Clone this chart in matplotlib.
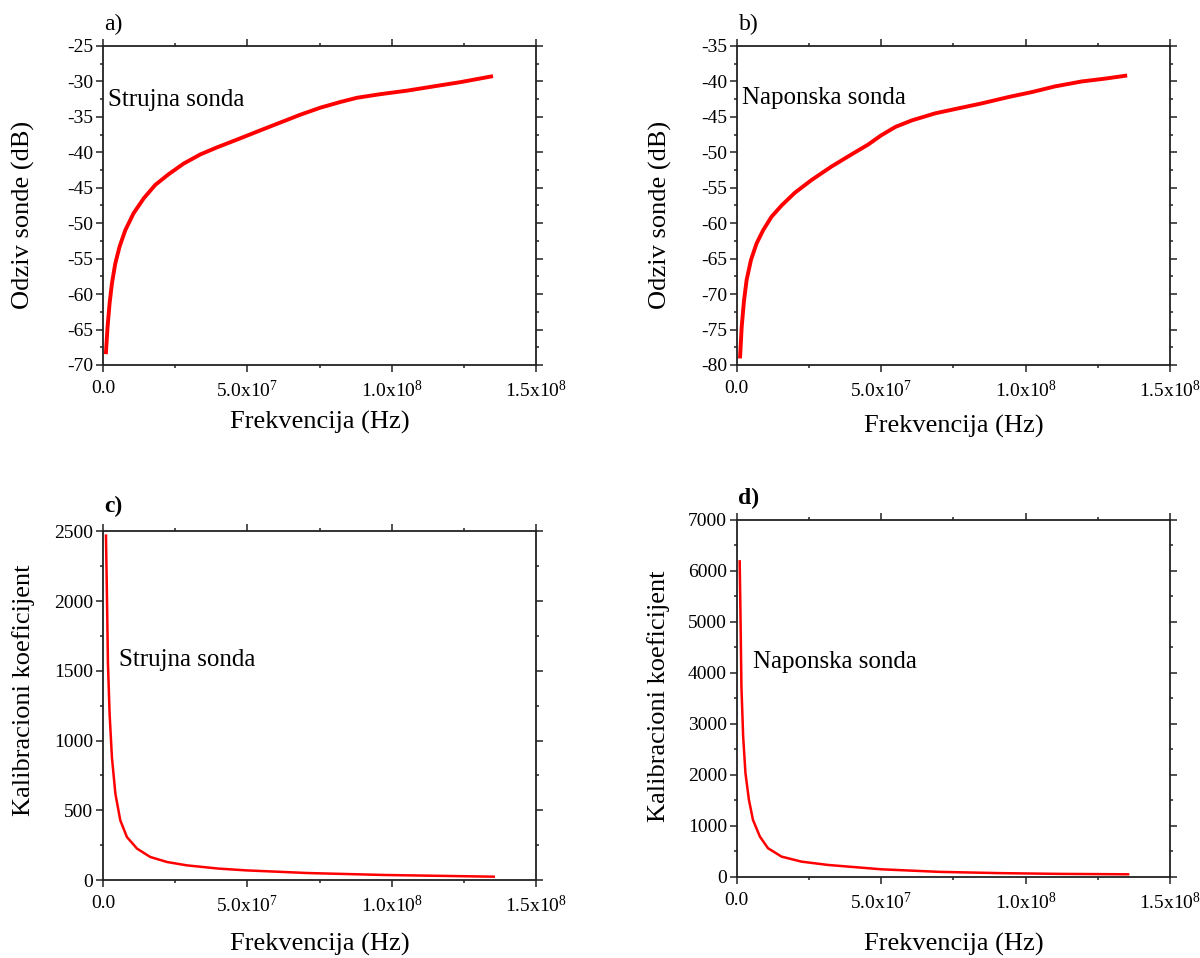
import matplotlib
matplotlib.use("Agg")
import matplotlib.pyplot as plt
from matplotlib.ticker import MultipleLocator, FixedLocator, FixedFormatter

plt.rcParams['font.family'] = ['Liberation Serif', 'DejaVu Serif']
plt.rcParams['mathtext.fontset'] = 'custom'
plt.rcParams['mathtext.rm'] = 'Liberation Serif'
plt.rcParams['mathtext.it'] = 'Liberation Serif:italic'
plt.rcParams['mathtext.bf'] = 'Liberation Serif:bold'
plt.rcParams['axes.unicode_minus'] = False

# ---- data ----
freq_a = [1.04e6, 1.6e6, 2.3e6, 3.1e6, 4.26e6, 5.75e6, 7.72e6, 10.6e6, 14.1e6, 18.1e6,
          22.7e6, 27.9e6, 33.7e6, 39.5e6, 45.2e6, 50.8e6, 54.5e6, 61.4e6, 68.3e6, 75.3e6,
          82.2e6, 88.0e6, 96.0e6, 105.3e6, 114.5e6, 123.8e6, 134.4e6]
resp_a = [-68.2, -64.6, -61.3, -58.5, -55.7, -53.3, -51.0, -48.6, -46.5, -44.6,
          -43.1, -41.6, -40.3, -39.3, -38.4, -37.5, -36.9, -35.8, -34.7, -33.7,
          -32.9, -32.3, -31.8, -31.3, -30.7, -30.1, -29.3]

freq_b = [1.14e6, 1.7e6, 2.5e6, 3.4e6, 4.9e6, 6.8e6, 9.1e6, 12.0e6, 15.5e6, 20.1e6,
          25.9e6, 32.8e6, 39.7e6, 45.5e6, 50.0e6, 55.0e6, 60.6e6, 68.7e6, 76.7e6, 84.8e6,
          94.1e6, 102.2e6, 110.2e6, 119.5e6, 127.6e6, 134.5e6]
resp_b = [-78.8, -74.6, -70.9, -68.0, -65.2, -62.9, -61.0, -59.1, -57.5, -55.7,
          -53.9, -52.0, -50.3, -48.9, -47.6, -46.4, -45.5, -44.5, -43.8, -43.1,
          -42.2, -41.5, -40.7, -40.0, -39.6, -39.2]

freq_c = [1.04e6, 1.39e6, 1.73e6, 2.3e6, 3.1e6, 4.3e6, 6.0e6, 8.3e6, 11.8e6, 16.4e6,
          22.2e6, 29.1e6, 40.0e6, 49.7e6, 71.0e6, 97.6e6, 135.3e6]
coef_c = [2469, 2027, 1550, 1192, 881, 619, 428, 308, 225, 165,
          129, 105, 82, 69, 50, 36, 24]

freq_d = [1.0e6, 1.3e6, 1.6e6, 2.2e6, 3.0e6, 4.2e6, 5.6e6, 8.0e6, 10.8e6, 15.5e6,
          22.4e6, 31.6e6, 40.3e6, 50.0e6, 70.0e6, 91.0e6, 112.0e6, 135.5e6]
coef_d = [6182, 5039, 3731, 2751, 2033, 1510, 1118, 790, 563, 398,
          300, 235, 195, 150, 100, 75, 60, 52]

x_ticks = [0, 5e7, 1e8, 1.5e8]
x_ticklabels = ['0.0', '5.0x10$^{7}$', '1.0x10$^{8}$', '1.5x10$^{8}$']

fig = plt.figure(figsize=(12, 9.58), dpi=100)

W = 0.361
axa = fig.add_axes([0.0858, 0.619, W, 0.333])
axb = fig.add_axes([0.614, 0.619, W, 0.333])
axc = fig.add_axes([0.0858, 0.0814, W, 0.364])
axd = fig.add_axes([0.614, 0.0846, W, 0.373])

RED = '#ff0000'
axa.plot(freq_a, resp_a, color=RED, lw=2.8, solid_joinstyle='round')
axb.plot(freq_b, resp_b, color=RED, lw=2.8, solid_joinstyle='round')
axc.plot(freq_c, coef_c, color=RED, lw=1.8, solid_joinstyle='round')
axd.plot(freq_d, coef_d, color=RED, lw=1.8, solid_joinstyle='round')

ylims = {axa: (-70, -25, 5, 2.5), axb: (-80, -35, 5, 2.5),
         axc: (0, 2500, 500, 250), axd: (0, 7000, 1000, 500)}

for ax, (lo, hi, maj, mnr) in ylims.items():
    ax.set_xlim(0, 1.5e8)
    ax.set_ylim(lo, hi)
    ax.xaxis.set_major_locator(FixedLocator(x_ticks))
    ax.xaxis.set_major_formatter(FixedFormatter(x_ticklabels))
    ax.xaxis.set_minor_locator(MultipleLocator(2.5e7))
    ax.yaxis.set_major_locator(MultipleLocator(maj))
    ax.yaxis.set_minor_locator(MultipleLocator(mnr))
    ax.tick_params(which='both', direction='out', top=True, right=True,
                   labelsize=14, color='#222222', width=1.1)
    ax.tick_params(which='major', length=5)
    ax.tick_params(which='minor', length=2.5)
    ax.tick_params(axis='x', which='major', pad=6)
    ax.tick_params(axis='y', which='major', pad=2)
    for s in ax.spines.values():
        s.set_linewidth(1.3)
        s.set_color('#222222')
    ax.set_xlabel('Frekvencija (Hz)', fontsize=19)

axa.set_ylabel('Odziv sonde (dB)', fontsize=19)
axb.set_ylabel('Odziv sonde (dB)', fontsize=19)
axc.set_ylabel('Kalibracioni koeficijent', fontsize=19)
axd.set_ylabel('Kalibracioni koeficijent', fontsize=19)

axa.yaxis.set_label_coords(-0.157, 0.47)
axb.yaxis.set_label_coords(-0.150, 0.47)
axc.yaxis.set_label_coords(-0.157, 0.544)
axd.yaxis.set_label_coords(-0.154, 0.507)
axa.xaxis.set_label_coords(0.5, -0.145)
axb.xaxis.set_label_coords(0.5, -0.157)
axc.xaxis.set_label_coords(0.5, -0.152)
axd.xaxis.set_label_coords(0.5, -0.157)

axa.text(0.012, 0.83, 'Strujna sonda', transform=axa.transAxes, fontsize=18, va='center', ha='left')
axb.text(0.012, 0.836, 'Naponska sonda', transform=axb.transAxes, fontsize=18, va='center', ha='left')
axc.text(0.036, 0.63, 'Strujna sonda', transform=axc.transAxes, fontsize=18, va='center', ha='left')
axd.text(0.037, 0.602, 'Naponska sonda', transform=axd.transAxes, fontsize=18, va='center', ha='left')

fig.text(0.087, 0.974, 'a)', fontsize=17, va='center', ha='left')
fig.text(0.616, 0.974, 'b)', fontsize=17, va='center', ha='left')
fig.text(0.087, 0.471, 'c)', fontsize=17, va='center', ha='left', fontweight='bold')
fig.text(0.615, 0.480, 'd)', fontsize=17, va='center', ha='left', fontweight='bold')

fig.savefig('out.png', dpi=100)
